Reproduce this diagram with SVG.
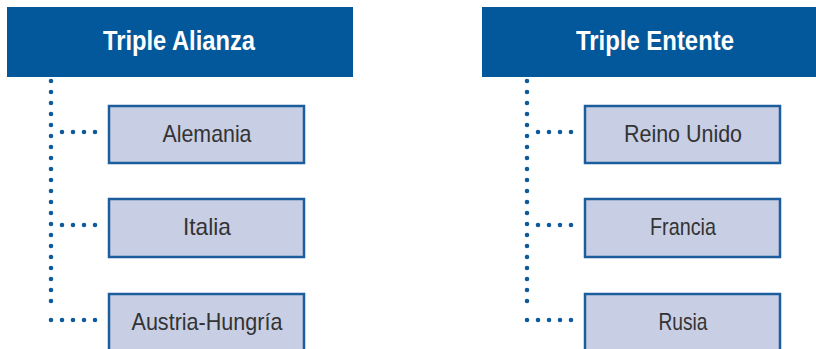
<svg xmlns="http://www.w3.org/2000/svg" width="816" height="349" viewBox="0 0 816 349">
<style>
.hdr{fill:#03589B}
.hdrt{fill:#fff;font-family:"Liberation Sans",Arial,sans-serif;font-weight:bold;font-size:27px;text-anchor:middle}
.box{fill:#C8CEE3;stroke:#1C5E9D;stroke-width:2.5}
.bt{fill:#333;font-family:"Liberation Sans",Arial,sans-serif;font-size:24px;text-anchor:middle}
.dot{fill:none;stroke:#0D5A9C;stroke-width:4.6;stroke-linecap:round;stroke-dasharray:0 11}
</style>
<rect width="816" height="349" fill="#fff"/>
<g id="connectors">
<path class="dot" d="M51 81 V303"/>
<path class="dot" d="M62 132 H96"/>
<path class="dot" d="M62 225 H96"/>
<path class="dot" d="M51 320 H96"/>
<path class="dot" d="M527 81 V303"/>
<path class="dot" d="M538 132 H572"/>
<path class="dot" d="M538 225 H572"/>
<path class="dot" d="M527 320 H572"/>
</g>
<g id="triple-alianza">
<rect class="hdr" x="7" y="7" width="346" height="70"/>
<text class="hdrt" x="179" y="50" textLength="152" lengthAdjust="spacingAndGlyphs">Triple Alianza</text>
</g>
<g id="triple-entente">
<rect class="hdr" x="482" y="7" width="340" height="70"/>
<text class="hdrt" x="655" y="50" textLength="158" lengthAdjust="spacingAndGlyphs">Triple Entente</text>
</g>
<g id="alemania">
<rect class="box" x="109" y="106" width="195" height="57"/>
<text class="bt" x="207" y="142" textLength="89" lengthAdjust="spacingAndGlyphs">Alemania</text>
</g>
<g id="italia">
<rect class="box" x="109" y="199" width="195" height="58"/>
<text class="bt" x="207" y="235" textLength="48" lengthAdjust="spacingAndGlyphs">Italia</text>
</g>
<g id="austria-hungria">
<rect class="box" x="109" y="294" width="195" height="60"/>
<text class="bt" x="207" y="330" textLength="151" lengthAdjust="spacingAndGlyphs">Austria-Hungría</text>
</g>
<g id="reino-unido">
<rect class="box" x="585" y="106" width="195" height="57"/>
<text class="bt" x="683" y="142" textLength="118" lengthAdjust="spacingAndGlyphs">Reino Unido</text>
</g>
<g id="francia">
<rect class="box" x="585" y="199" width="195" height="58"/>
<text class="bt" x="683" y="235" textLength="66" lengthAdjust="spacingAndGlyphs">Francia</text>
</g>
<g id="rusia">
<rect class="box" x="585" y="294" width="195" height="60"/>
<text class="bt" x="683" y="330" textLength="49" lengthAdjust="spacingAndGlyphs">Rusia</text>
</g>
</svg>
